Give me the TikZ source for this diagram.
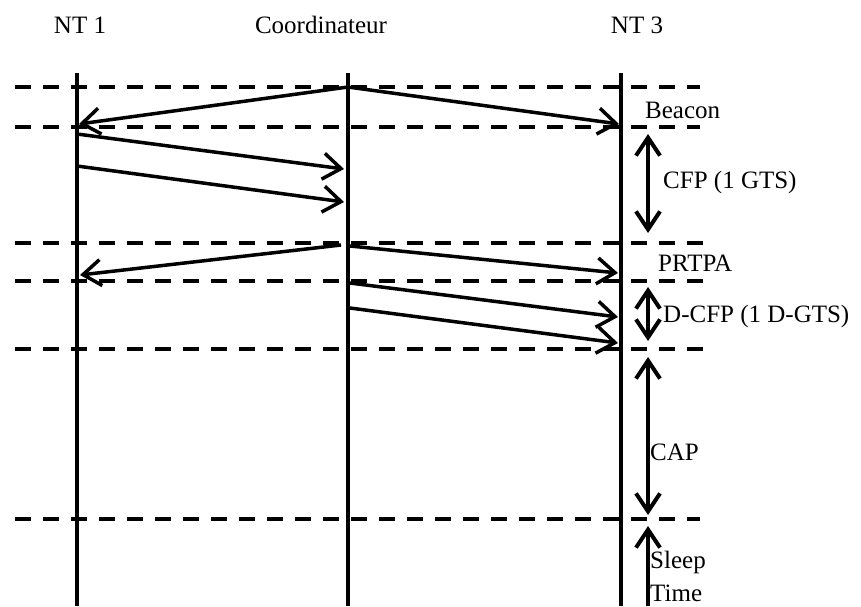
\documentclass[tikz,border=0pt]{standalone}
\usepackage{fontspec}
\setmainfont{Liberation Serif}
\usetikzlibrary{arrows.meta}
\begin{document}
\begin{tikzpicture}[x=1pt,y=-1pt,
  lifeline/.style={line width=4pt},
  sep/.style={line width=4pt,dash pattern=on 16pt off 12pt},
  msg/.style={line width=3.5pt,-{Straight Barb[length=18pt,width=26pt,line width=3.5pt]}},
  span/.style={line width=4pt,{Straight Barb[length=18pt,width=24pt,line width=4pt]}-{Straight Barb[length=18pt,width=24pt,line width=4pt]}},
  upspan/.style={line width=4pt,-{Straight Barb[length=18pt,width=24pt,line width=4pt]}},
  lbl/.style={font=\fontsize{25}{29}\selectfont,inner sep=0pt}]
\useasboundingbox (0,0) rectangle (861,606);
% headers
\node[lbl,anchor=base] (h1) at (80,33) {NT 1};
\node[lbl,anchor=base] (h2) at (321,33) {Coordinateur};
\node[lbl,anchor=base] (h3) at (637,33) {NT 3};
% lifelines
\coordinate (a0) at (77,73); \coordinate (a1) at (77,606);
\coordinate (b0) at (348,73); \coordinate (b1) at (348,606);
\coordinate (c0) at (621,73); \coordinate (c1) at (621,606);
\draw[lifeline] (a0) -- (a1);
\draw[lifeline] (b0) -- (b1);
\draw[lifeline] (c0) -- (c1);
% separators
\foreach \y/\e in {87/700,127/700,243/703,281/703,349/703,519/700}{
  \draw[sep] (15,\y) -- (\e,\y);
}
% messages
\coordinate (m0) at (348,87);
\coordinate (m1) at (79,124);
\coordinate (m2) at (619,124);
\draw[msg] (m0) -- (m1);
\draw[msg] (m0) -- (m2);
\coordinate (n1s) at (77,134); \coordinate (n1e) at (344,169);
\coordinate (n2s) at (77,166); \coordinate (n2e) at (344,202);
\draw[msg] (n1s) -- (n1e);
\draw[msg] (n2s) -- (n2e);
\coordinate (p0) at (341,245); \coordinate (p1) at (80,275);
\coordinate (q0) at (350,246); \coordinate (q1) at (618,273);
\draw[msg] (p0) -- (p1);
\draw[msg] (q0) -- (q1);
\coordinate (r1s) at (350,283); \coordinate (r1e) at (618,317);
\coordinate (r2s) at (350,308); \coordinate (r2e) at (618,343);
\draw[msg] (r1s) -- (r1e);
\draw[msg] (r2s) -- (r2e);
% periods
\coordinate (cfp0) at (648,134); \coordinate (cfp1) at (648,233);
\draw[span] (cfp0) -- (cfp1);
\coordinate (dc0) at (648,287); \coordinate (dc1) at (648,341);
\draw[span] (dc0) -- (dc1);
\coordinate (cap0) at (648,357); \coordinate (cap1) at (648,515);
\draw[span] (cap0) -- (cap1);
\coordinate (sl0) at (648,606); \coordinate (sl1) at (648,526);
\draw[upspan] (sl0) -- (sl1);
% labels
\node[lbl,anchor=base west] (lb) at (645,118) {Beacon};
\node[lbl,anchor=base west] (lc) at (663,188) {CFP (1 GTS)};
\node[lbl,anchor=base west] (lp) at (658,271) {PRTPA};
\node[lbl,anchor=base west] (ld) at (663,322) {D-CFP (1 D-GTS)};
\node[lbl,anchor=base west] (lcap) at (650,460) {CAP};
\node[lbl,anchor=base west] (ls) at (650,568) {Sleep};
\node[lbl,anchor=base west] (lt) at (650,601) {Time};
\end{tikzpicture}
\end{document}
